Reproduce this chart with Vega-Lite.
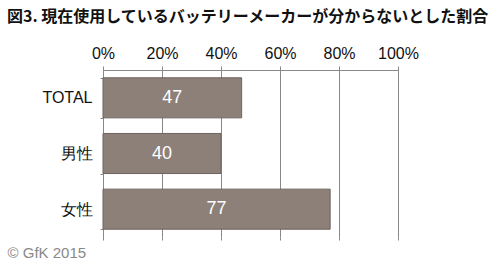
{
  "$schema": "https://vega.github.io/schema/vega-lite/v6.json",
  "width": 295,
  "height": 167,
  "autosize": {"type": "none"},
  "padding": {"left": 103, "top": 70, "right": 102, "bottom": 23},
  "background": "white",
  "config": {"font": "Liberation Sans", "view": {"stroke": null}},
  "title": {
    "text": "図3. 現在使用しているバッテリーメーカーが分からないとした割合",
    "anchor": "start",
    "frame": "group",
    "dx": -96,
    "offset": 20,
    "fontSize": 16,
    "fontWeight": "bold",
    "font": "Noto Sans CJK JP",
    "color": "#111111"
  },
  "data": {
    "values": [
      {"group": "TOTAL", "value": 47},
      {"group": "男性", "value": 40},
      {"group": "女性", "value": 77}
    ]
  },
  "encoding": {
    "y": {
      "field": "group",
      "type": "nominal",
      "sort": null,
      "scale": {"paddingInner": 0.28, "paddingOuter": 0.14},
      "axis": {
        "title": null,
        "labelFontSize": 16,
        "labelColor": "#111111",
        "labelPadding": 8,
        "labelFont": "Liberation Sans",
        "tickBand": "extent",
        "tickSize": 3,
        "tickColor": "#888888",
        "domainColor": "#888888"
      }
    }
  },
  "resolve": {"axis": {"x": "independent"}, "scale": {"x": "independent"}},
  "layer": [
    {
      "mark": {"type": "bar", "color": "#8c8079", "stroke": "#6f645e", "strokeWidth": 1},
      "encoding": {
        "x": {
          "field": "value",
          "type": "quantitative",
          "scale": {"domain": [0, 100], "nice": false},
          "axis": {
            "orient": "top",
            "values": [0, 20, 40, 60, 80, 100],
            "labelExpr": "datum.value + '%'",
            "labelFlush": false,
            "labelOverlap": false,
            "title": null,
            "grid": true,
            "gridColor": "#888888",
            "gridOpacity": 1,
            "domainColor": "#888888",
            "tickColor": "#888888",
            "tickSize": 4,
            "labelFontSize": 16,
            "labelColor": "#111111",
            "labelPadding": 5
          }
        }
      }
    },
    {
      "mark": {"type": "text", "color": "white", "fontSize": 18, "align": "center", "baseline": "middle"},
      "encoding": {
        "x": {
          "field": "value",
          "type": "quantitative",
          "scale": {"domain": [0, 200], "nice": false},
          "axis": {
            "orient": "bottom",
            "values": [0, 40, 80, 120, 160, 200],
            "labels": false,
            "domain": false,
            "grid": false,
            "tickSize": 3,
            "tickColor": "#888888",
            "title": "© GfK 2015",
            "titleFont": "Liberation Sans",
            "titleFontWeight": "normal",
            "titleFontSize": 15,
            "titleColor": "#888888",
            "titleAnchor": "start",
            "titleAlign": "left",
            "titleBaseline": "alphabetic",
            "titleX": -96,
            "titleY": 20
          }
        },
        "text": {"field": "value", "type": "quantitative"}
      }
    }
  ]
}
